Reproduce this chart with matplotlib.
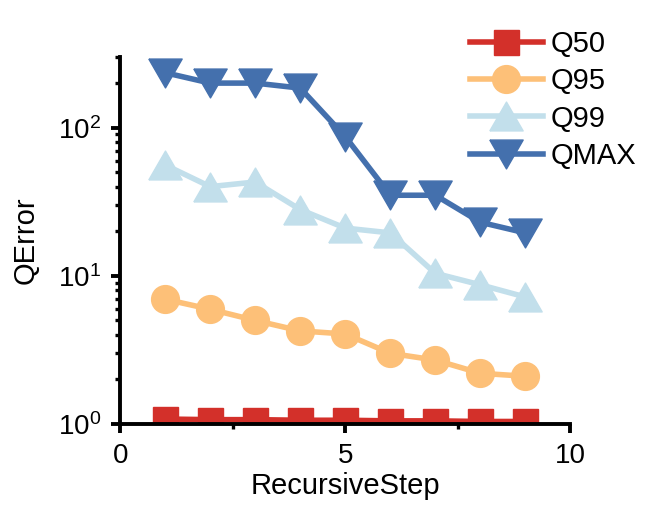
import matplotlib.pyplot as plt
import numpy as np

plt.rcParams['font.family'] = ['Liberation Sans', 'DejaVu Sans']

# Data
steps = np.arange(1, 10)
q50 = [1.08, 1.07, 1.07, 1.06, 1.06, 1.05, 1.05, 1.04, 1.04]
q95 = [6.95, 5.95, 5.0, 4.25, 4.05, 3.0, 2.7, 2.2, 2.1]
q99 = [56, 40, 43, 28, 21, 19.5, 10.4, 8.7, 7.2]
qmax = [235, 200, 200, 185, 87, 35, 35, 23, 19.5]

# equilateral triangles (wider than matplotlib's default ones)
tri_up = [(-1, -0.866), (1, -0.866), (0, 0.866), (-1, -0.866)]
tri_down = [(-1, 0.866), (1, 0.866), (0, -0.866), (-1, 0.866)]

series = [
    ('Q50', q50, 's', 18, '#d3302a'),
    ('Q95', q95, 'o', 20, '#fdc078'),
    ('Q99', q99, tri_up, 24, '#c2dfeb'),
    ('QMAX', qmax, tri_down, 24, '#4470ad'),
]

fig = plt.figure(figsize=(6.64, 5.09), dpi=100)
ax = fig.add_axes([0.181, 0.167, 0.678, 0.721])

for name, vals, marker, ms, color in series:
    ax.plot(steps, vals, marker=marker, color=color, lw=4, markersize=ms,
            label=name)

ax.set_yscale('log')
ax.set_ylim(1, 300)
ax.set_xlim(0, 10)
ax.set_xticks([0, 5, 10])
ax.set_xticks([2.5, 7.5], minor=True)

ax.spines['top'].set_visible(False)
ax.spines['right'].set_visible(False)
for s in ['left', 'bottom']:
    ax.spines[s].set_linewidth(2.8)
ax.tick_params(which='major', length=6.5, width=2.8, labelsize=20, pad=7)
ax.tick_params(which='minor', length=3.5, width=2.4)

ax.set_xlabel('RecursiveStep', fontsize=21, labelpad=2)
ax.set_ylabel('QError', fontsize=21, labelpad=13)

fig.legend(loc='upper left', bbox_to_anchor=(470 / 664, 1 - 30 / 509),
           frameon=False, fontsize=21, handlelength=2.5, labelspacing=0.32,
           handletextpad=0.27, borderpad=0, borderaxespad=0)

fig.savefig('out.png', dpi=100)
